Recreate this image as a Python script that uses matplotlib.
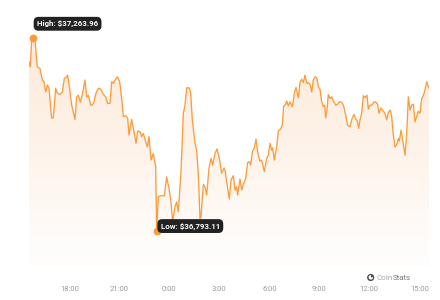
import numpy as np
import matplotlib.pyplot as plt
from matplotlib.patches import Circle, Wedge
from matplotlib.transforms import IdentityTransform

plt.rcParams['font.family'] = ['Roboto', 'DejaVu Sans']

# hours since midnight of the first day (24h window)
hours = [
    15.58, 15.66, 15.74, 15.82, 15.94, 16.08, 16.24, 16.38, 16.48, 16.58,
    16.68, 16.78, 16.94, 17.04, 17.18, 17.28, 17.44, 17.58, 17.70, 17.80,
    17.90, 18.00, 18.14, 18.34, 18.44, 18.54, 18.66, 18.78, 18.94, 19.04,
    19.14, 19.28, 19.38, 19.48, 19.60, 19.74, 19.88, 20.04, 20.18, 20.30,
    20.44, 20.54, 20.64, 20.78, 20.88, 21.02, 21.14, 21.24, 21.38, 21.50,
    21.58, 21.74, 21.88, 22.00, 22.10, 22.24, 22.34, 22.44, 22.58, 22.68,
    22.78, 22.90, 23.04, 23.18, 23.24, 23.34, 23.50, 23.70, 23.84, 23.98,
    24.10, 24.20, 24.34, 24.44, 24.54, 24.70, 24.84, 24.94, 25.04, 25.20,
    25.28, 25.38, 25.54, 25.64, 25.74, 25.84, 25.90, 26.04, 26.14, 26.24,
    26.38, 26.50, 26.60, 26.74, 26.86, 26.98, 27.14, 27.28, 27.34, 27.44,
    27.60, 27.70, 27.84, 27.94, 28.04, 28.10, 28.24, 28.34, 28.44, 28.58,
    28.70, 28.80, 28.88, 28.98, 29.10, 29.20, 29.30, 29.42, 29.54, 29.70,
    29.84, 29.94, 30.04, 30.14, 30.20, 30.30, 30.44, 30.54, 30.68, 30.78,
    30.86, 30.98, 31.04, 31.14, 31.24, 31.38, 31.50, 31.60, 31.74, 31.84,
    31.94, 32.04, 32.14, 32.24, 32.34, 32.46, 32.54, 32.64, 32.74, 32.84,
    32.94, 33.04, 33.14, 33.24, 33.32, 33.38, 33.44, 33.54, 33.64, 33.74,
    33.84, 33.98, 34.10, 34.20, 34.34, 34.46, 34.58, 34.70, 34.84, 34.94,
    35.08, 35.18, 35.28, 35.36, 35.44, 35.54, 35.64, 35.74, 35.86, 35.94,
    36.04, 36.14, 36.30, 36.38, 36.50, 36.58, 36.70, 36.84, 36.94, 37.04,
    37.14, 37.26, 37.34, 37.44, 37.54, 37.64, 37.74, 37.80, 37.90, 38.00,
    38.14, 38.24, 38.34, 38.44, 38.54, 38.64, 38.74, 38.84, 38.94, 39.04,
    39.14, 39.24, 39.34, 39.44, 39.58,
]

# BTC price in USD
prices = [
    37206, 37193, 37258, 37263.96, 37258, 37193, 37189, 37161, 37157, 37132,
    37149, 37141, 37068, 37069, 37141, 37129, 37126, 37132, 37165, 37167,
    37173, 37145, 37100, 37065, 37120, 37124, 37107, 37126, 37161, 37120,
    37124, 37100, 37100, 37108, 37129, 37141, 37139, 37126, 37120, 37104,
    37104, 37157, 37153, 37163, 37169, 37157, 37116, 37072, 37074, 37068,
    37027, 37065, 37035, 37007, 37037, 37035, 37023, 37031, 37011, 36998,
    37023, 36966, 36982, 36950, 36793.11, 36877, 36879, 36879, 36925, 36897,
    36864, 36816, 36852, 36864, 36840, 36938, 37080, 37100, 37142, 37142,
    37129, 37064, 37007, 36990, 36930, 36824, 36828, 36907, 36901, 36881,
    36946, 36970, 36954, 36982, 36993, 36974, 36934, 36947, 36942, 36913,
    36871, 36917, 36928, 36893, 36901, 36881, 36920, 36893, 36907, 36921,
    36960, 36962, 36954, 36986, 36996, 37017, 36986, 36964, 36966, 36938,
    36970, 36978, 37007, 36990, 36996, 36966, 36998, 37037, 37042, 37051,
    37098, 37102, 37110, 37098, 37108, 37096, 37129, 37143, 37118, 37155,
    37163, 37155, 37173, 37153, 37155, 37149, 37132, 37161, 37169, 37167,
    37145, 37139, 37108, 37096, 37100, 37069, 37081, 37126, 37116, 37120,
    37110, 37100, 37102, 37108, 37107, 37098, 37076, 37050, 37047, 37064,
    37077, 37066, 37061, 37043, 37064, 37080, 37123, 37118, 37124, 37090,
    37100, 37100, 37108, 37108, 37102, 37080, 37093, 37085, 37080, 37064,
    37082, 37088, 37072, 37027, 36998, 37003, 37019, 37012, 37039, 37015,
    36978, 37027, 37120, 37088, 37100, 37102, 37059, 37072, 37085, 37080,
    37116, 37123, 37137, 37157, 37141,
]

tick_hours = [18, 21, 24, 27, 30, 33, 36, 39]
tick_labels = ["18:00", "21:00", "0:00", "3:00", "6:00", "9:00", "12:00", "15:00"]

hours = np.array(hours)
prices = np.array(prices)
y_lo, y_hi = 36708, 37356

line_color = '#fb9c3c'

fig = plt.figure(figsize=(4.4, 3.0), dpi=100)
ax = fig.add_axes([29 / 440, 34 / 300, 400 / 440, 266 / 300])
ax.set_xlim(hours[0], hours[-1])
ax.set_ylim(y_lo, y_hi)

# gradient fill under the line, clipped to the area polygon
poly = ax.fill_between(hours, prices, y_lo, color='none', lw=0)
top = np.array([253, 233, 216]) / 255
bottom = np.array([255, 254, 253]) / 255
frac = np.linspace(0, 1, 256)[:, None]
grad = bottom + (top - bottom) * frac
grad = np.repeat(grad[:, None, :], 2, axis=1)
img = ax.imshow(grad, extent=[hours[0], hours[-1], y_lo, 37264], origin='lower',
                aspect='auto', zorder=1, interpolation='bilinear')
img.set_clip_path(poly.get_paths()[0], transform=ax.transData)
ax.set_ylim(y_lo, y_hi)

ax.plot(hours, prices, color=line_color, lw=0.95, zorder=3, solid_joinstyle='round')

# high / low markers with dark tooltips
i_hi = int(np.argmax(prices))
i_lo = int(np.argmin(prices))
ax.plot(hours[i_hi], prices[i_hi], 'o', color=line_color, ms=4.6, zorder=4)
ax.plot(hours[i_lo], prices[i_lo], 'o', color=line_color, ms=4.6, zorder=4)

box = dict(boxstyle='round,pad=0.42,rounding_size=0.6', fc='#222222', ec='none')
ax.annotate(f"High: ${prices[i_hi]:,.2f}", xy=(hours[i_hi], prices[i_hi]),
            xytext=(4, 14), textcoords='offset pixels', ha='left', va='center',
            color='white', fontsize=5.7, fontweight='bold', bbox=box, zorder=5)
ax.annotate(f"Low: ${prices[i_lo]:,.2f}", xy=(hours[i_lo], prices[i_lo]),
            xytext=(4, 5), textcoords='offset pixels', ha='left', va='center',
            color='white', fontsize=5.7, fontweight='bold', bbox=box, zorder=5)

ax.set_xticks(tick_hours)
ax.set_xticklabels(tick_labels)
ax.tick_params(axis='x', length=0, pad=14.5, labelsize=5.5, labelcolor='#9a9a9a')
ax.set_yticks([])
for s in ax.spines.values():
    s.set_visible(False)

# CoinStats watermark (pixel coords, origin bottom left)
ident = IdentityTransform()
fig.patches.append(Circle((370.7, 300 - 277.5), 3.6, fc='#4a4a4a', ec='none', transform=ident))
fig.patches.append(Wedge((370.9, 300 - 277.3), 2.3, 90, 0, fc='white', ec='none', transform=ident))
t1 = fig.text(376.5 / 440, 1 - 277.5 / 300, "Coin", fontsize=5.8, color='#a8a8a8', va='center')
fig.canvas.draw()
bb = t1.get_window_extent()
fig.text((bb.x1 - 0.5) / 440, 1 - 277.5 / 300, "Stats", fontsize=5.8, color='#7a7a7a', va='center')

fig.savefig("out.png", dpi=100)
plt.close(fig)
